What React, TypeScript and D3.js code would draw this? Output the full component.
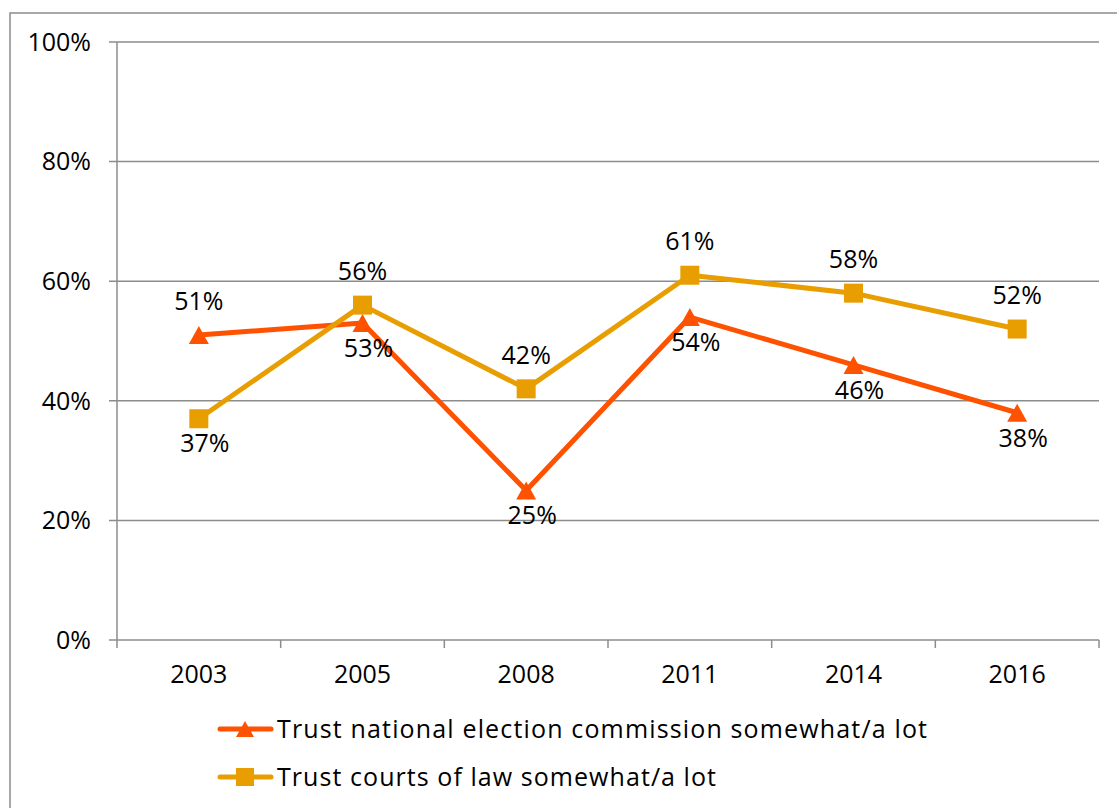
import React from "react";
import * as d3 from "d3";

const years = ["2003", "2005", "2008", "2011", "2014", "2016"];
const electionCommission = [51, 53, 25, 54, 46, 38];
const courts = [37, 56, 42, 61, 58, 52];
const yTicks = [0, 20, 40, 60, 80, 100];
const electionLabelSide = ["above", "below", "below", "below", "below", "below"];
const courtsLabelSide = ["below", "above", "above", "above", "above", "above"];
const seriesNames = [
  "Trust national election commission somewhat/a lot",
  "Trust courts of law somewhat/a lot",
];

const W = 1117;
const H = 808;
const RED = "#FF5200";
const ORANGE = "#E89E00";
const GRID = "#8C8C8C";
const FONT = "'Open Sans', sans-serif";

export default function App() {
  const x = d3.scaleBand<string>().domain(years).range([117, 1099]);
  const y = d3.scaleLinear().domain([0, 100]).range([640, 42]);
  const cx = (yr: string) => (x(yr) as number) + x.bandwidth() / 2;
  const line = d3
    .line<number>()
    .x((_, i) => cx(years[i]))
    .y((d) => y(d));

  const tri = (px: number, py: number, s = 20) => {
    const h = s * 0.9;
    return `M${px},${py - h / 2} L${px + s / 2},${py + h / 2} L${px - s / 2},${py + h / 2} Z`;
  };

  const labelY = (v: number, side: string) => (side === "above" ? y(v) - 34 : y(v) + 25);
  const labelX = (i: number, side: string) => (side === "above" ? cx(years[i]) : cx(years[i]) + 6);

  const boundaries = years.map((yr) => x(yr) as number).concat([x.range()[1]]);

  return (
    <svg
      width={W}
      height={H}
      style={{ position: "absolute", left: 0, top: 0, background: "#fff" }}
      fontFamily={FONT}
    >
      <rect x={10} y={13} width={W + 10} height={H + 10} fill="#fff" stroke={GRID} strokeWidth={1.5} />
      {yTicks.map((t) => (
        <line key={t} x1={109} x2={1099} y1={y(t)} y2={y(t)} stroke={GRID} strokeWidth={1.5} />
      ))}
      <line x1={117} x2={117} y1={y(100)} y2={y(0)} stroke={GRID} strokeWidth={1.5} />
      {boundaries.map((b, i) => (
        <line key={i} x1={b} x2={b} y1={y(0)} y2={y(0) + 8} stroke={GRID} strokeWidth={1.5} />
      ))}
      {yTicks.map((t) => (
        <text key={t} x={91} y={y(t)} dy="0.35em" textAnchor="end" fontSize={25} fill="#000">
          {t}%
        </text>
      ))}
      {years.map((yr) => (
        <text key={yr} x={cx(yr)} y={683} textAnchor="middle" fontSize={25} fill="#000">
          {yr}
        </text>
      ))}
      <path d={line(electionCommission) || ""} fill="none" stroke={RED} strokeWidth={5} strokeLinejoin="round" />
      {electionCommission.map((v, i) => (
        <path key={i} d={tri(cx(years[i]), y(v))} fill={RED} />
      ))}
      <path d={line(courts) || ""} fill="none" stroke={ORANGE} strokeWidth={5} strokeLinejoin="round" />
      {courts.map((v, i) => (
        <rect key={i} x={cx(years[i]) - 9.5} y={y(v) - 9.5} width={19} height={19} fill={ORANGE} />
      ))}
      {electionCommission.map((v, i) => (
        <text key={"e" + i} x={labelX(i, electionLabelSide[i])} y={labelY(v, electionLabelSide[i])} dy="0.35em" textAnchor="middle" fontSize={25} fill="#000">
          {v}%
        </text>
      ))}
      {courts.map((v, i) => (
        <text key={"c" + i} x={labelX(i, courtsLabelSide[i])} y={labelY(v, courtsLabelSide[i])} dy="0.35em" textAnchor="middle" fontSize={25} fill="#000">
          {v}%
        </text>
      ))}
      <g>
        <line x1={220} x2={271} y1={729} y2={729} stroke={RED} strokeWidth={5} strokeLinecap="round" />
        <path d={tri(245, 729, 18)} fill={RED} />
        <text x={277} y={729} dy="0.35em" fontSize={25} fill="#000" textLength={650} lengthAdjust="spacing">{seriesNames[0]}</text>
        <line x1={220} x2={271} y1={777} y2={777} stroke={ORANGE} strokeWidth={5} strokeLinecap="round" />
        <rect x={236} y={768} width={18} height={18} fill={ORANGE} />
        <text x={277} y={777} dy="0.35em" fontSize={25} fill="#000" textLength={439} lengthAdjust="spacing">{seriesNames[1]}</text>
      </g>
    </svg>
  );
}
